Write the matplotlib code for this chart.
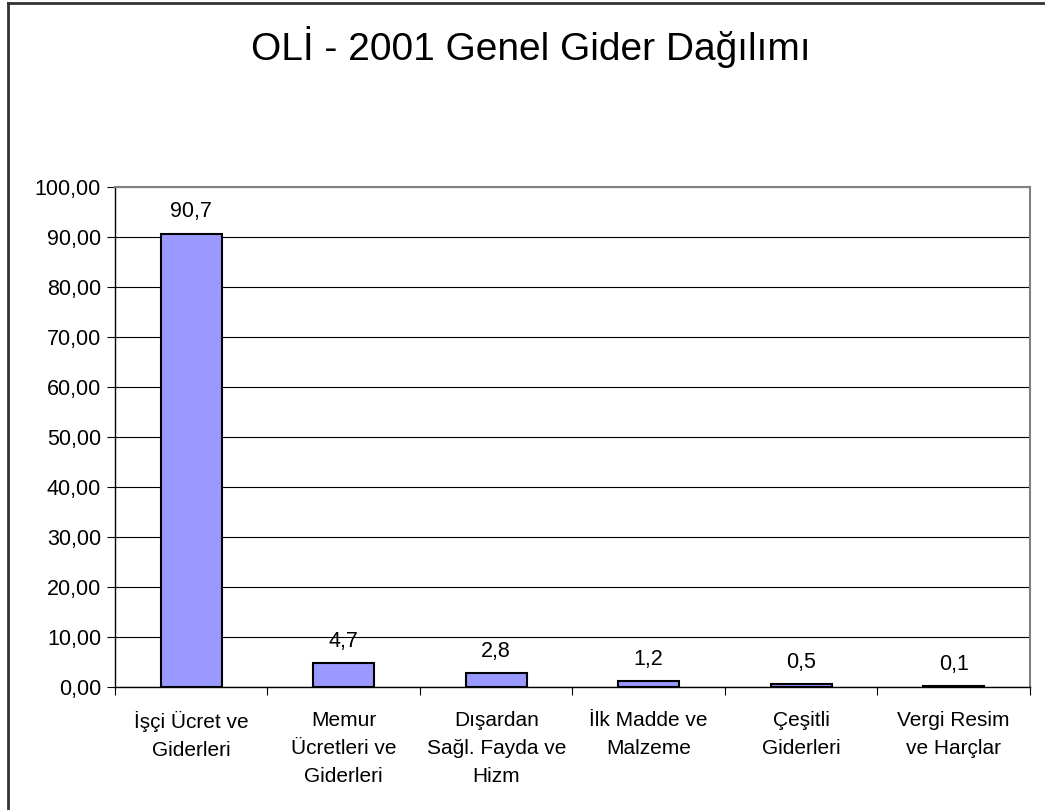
import matplotlib.pyplot as plt
from matplotlib.lines import Line2D
import numpy as np

plt.rcParams['font.family'] = ['Liberation Sans', 'DejaVu Sans']

categories = ['İşçi Ücret ve\nGiderleri', 'Memur\nÜcretleri ve\nGiderleri',
              'Dışardan\nSağl. Fayda ve\nHizm', 'İlk Madde ve\nMalzeme',
              'Çeşitli\nGiderleri', 'Vergi Resim\nve Harçlar']
values = [90.7, 4.7, 2.8, 1.2, 0.5, 0.1]
value_labels = ['90,7', '4,7', '2,8', '1,2', '0,5', '0,1']
yticks = np.arange(0, 101, 10)

fig = plt.figure(figsize=(10.45, 8.1), dpi=100)
ax = fig.add_axes([0.110, 0.1519, 0.8756, 0.6172])

x = np.arange(len(values))
ax.bar(x, values, width=0.4, color='#9999FF', edgecolor='black', linewidth=1.5, zorder=3)

for xi, v, lab in zip(x, values, value_labels):
    ax.annotate(lab, (xi, v), xytext=(0, 8), textcoords='offset points',
                ha='center', va='bottom', fontsize=15.5)

ax.set_xlim(-0.5, len(values) - 0.5)
ax.set_ylim(0, 100)
ax.set_yticks(yticks)
ax.set_yticklabels(['%d,00' % t for t in yticks], fontsize=15.5)
ax.yaxis.grid(True, color='black', linewidth=0.8, zorder=0)

# category labels between the boundary ticks
ax.set_xticks(np.arange(len(values) + 1) - 0.5)
ax.set_xticklabels([])
ax.set_xticks(x, minor=True)
ax.set_xticklabels(categories, minor=True, fontsize=15, linespacing=1.62, ha='center')
ax.tick_params(axis='x', which='minor', length=0, pad=17)
ax.tick_params(axis='x', which='major', length=6, direction='out')
ax.tick_params(axis='y', length=6, direction='out', pad=4)

for s in ['top', 'right']:
    ax.spines[s].set_color('#808080')
    ax.spines[s].set_linewidth(1.5)
for s in ['left', 'bottom']:
    ax.spines[s].set_color('black')
    ax.spines[s].set_linewidth(1)

fig.text(0.508, 0.942, 'OLİ - 2001 Genel Gider Dağılımı', ha='center', va='center', fontsize=28)

# outer chart border (left and top edges visible)
fig.add_artist(Line2D([0.008, 0.008], [0, 0.996], color='#333333', linewidth=2, transform=fig.transFigure))
fig.add_artist(Line2D([0.008, 1.0], [0.996, 0.996], color='#333333', linewidth=2, transform=fig.transFigure))

plt.savefig('out.png', dpi=100)
